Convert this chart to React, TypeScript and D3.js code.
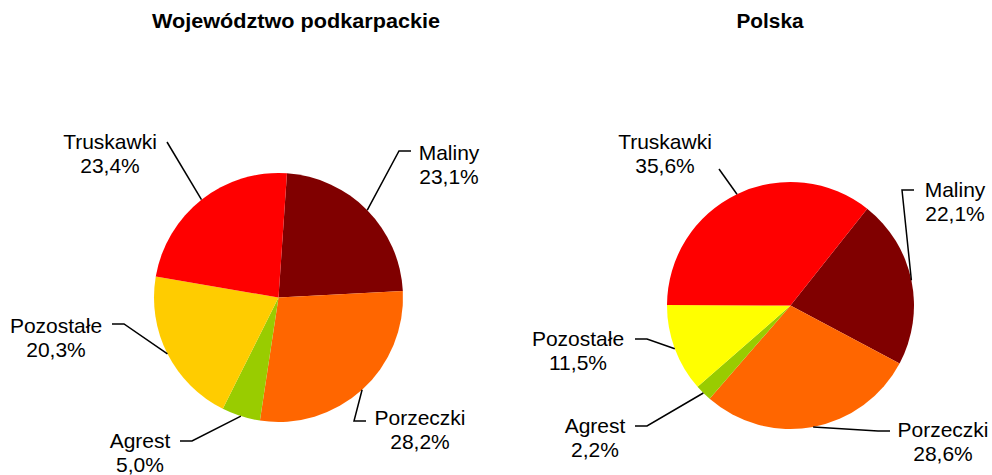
import * as d3 from "d3";
import * as React from "react";

// categories (slice order, clockwise from the start angle)
const categories = ["Maliny", "Porzeczki", "Agrest", "Pozostałe", "Truskawki"];
const podkarpackie = [23.1, 28.2, 5.0, 20.3, 23.4];
const polska = [22.1, 28.6, 2.2, 11.5, 35.6];
const titles = ["Województwo podkarpackie", "Polska"];

const coloursLeft = ["#800000", "#FF6600", "#99CC00", "#FFCC00", "#FF0000"];
const coloursRight = ["#800000", "#FF6600", "#99CC00", "#FFFF00", "#FF0000"];

const width = 992;
const height = 475;

// layout of each pie: centre, radius, first slice angle (deg), title box
const pies = [
  {
    values: podkarpackie,
    colours: coloursLeft,
    cx: 278.5,
    cy: 297.5,
    r: 124.5,
    start: 3.9,
    titleX: 296,
    titleW: 288,
    // label centre (first line baseline) and where the leader leaves the label
    labels: [
      { x: 449, y: 160, lx: 411, ly: 151, dir: -1 },
      { x: 420, y: 425, lx: 366, ly: 421, dir: -1 },
      { x: 140, y: 448, lx: 180, ly: 441, dir: 1 },
      { x: 56, y: 333, lx: 112, ly: 324, dir: 1 },
      { x: 110, y: 149, lx: 167, ly: 142, dir: 0 },
    ],
  },
  {
    values: polska,
    colours: coloursRight,
    cx: 790.5,
    cy: 305.5,
    r: 123.5,
    start: 38.4,
    titleX: 770,
    titleW: 67,
    labels: [
      { x: 955, y: 197, lx: 914, ly: 190, dir: -1 },
      { x: 943, y: 437, lx: 890, ly: 431, dir: -1 },
      { x: 595, y: 433, lx: 635, ly: 426, dir: 1 },
      { x: 578, y: 346, lx: 635, ly: 339, dir: 1 },
      { x: 665, y: 149, lx: 719, ly: 169, dir: 0 },
    ],
  },
];

const fmt = (v: number) => v.toFixed(1).replace(".", ",") + "%";

function Pie({ p }: { p: (typeof pies)[number] }) {
  const rad = (p.start * Math.PI) / 180;
  const arcs = d3
    .pie<number>()
    .sort(null)
    .value((d) => d)
    .startAngle(rad)
    .endAngle(rad + 2 * Math.PI)(p.values);
  const arc = d3.arc<d3.PieArcDatum<number>>().innerRadius(0).outerRadius(p.r);

  return (
    <g>
      <g transform={`translate(${p.cx},${p.cy})`}>
        {arcs.map((a, i) => (
          <path key={i} d={arc(a) ?? ""} fill={p.colours[i]} />
        ))}
      </g>
      {arcs.map((a, i) => {
        const mid = (a.startAngle + a.endAngle) / 2;
        const px = p.cx + p.r * Math.sin(mid);
        const py = p.cy - p.r * Math.cos(mid);
        const lb = p.labels[i];
        const pts: [number, number][] =
          lb.dir === 0
            ? [[lb.lx, lb.ly], [px, py]]
            : [[lb.lx, lb.ly], [lb.lx + lb.dir * 12, lb.ly], [px, py]];
        return (
          <g key={i}>
            <path
              d={d3.line()(pts) ?? ""}
              fill="none"
              stroke="#000"
              strokeWidth={1.5}
            />
            <text x={lb.x} y={lb.y} textAnchor="middle" fontSize={21}>
              {categories[i]}
            </text>
            <text x={lb.x} y={lb.y + 24} textAnchor="middle" fontSize={21}>
              {fmt(p.values[i])}
            </text>
          </g>
        );
      })}
    </g>
  );
}

export default function App() {
  return (
    <svg
      width={width}
      height={height}
      style={{ position: "absolute", left: 0, top: 0, background: "#fff" }}
      fontFamily="'Liberation Sans', Arial, sans-serif"
    >
      {pies.map((p, i) => (
        <text
          key={"t" + i}
          x={p.titleX}
          y={28}
          textAnchor="middle"
          fontSize={20}
          fontWeight="bold"
          textLength={p.titleW}
          lengthAdjust="spacingAndGlyphs"
        >
          {titles[i]}
        </text>
      ))}
      {pies.map((p, i) => (
        <Pie key={i} p={p} />
      ))}
    </svg>
  );
}
